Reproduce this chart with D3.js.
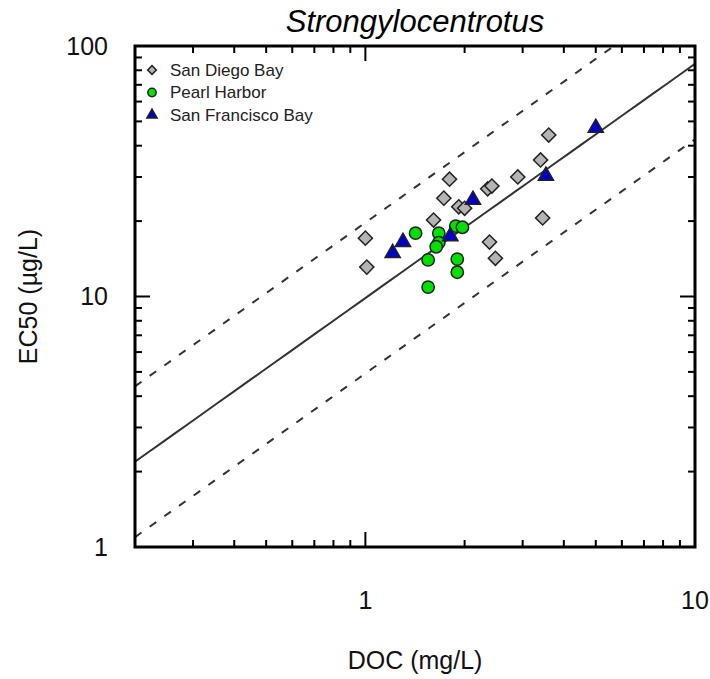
<!DOCTYPE html>
<html>
<head>
  <meta charset="utf-8">
  <title>Strongylocentrotus EC50 vs DOC</title>
  <script src="https://d3js.org/d3.v7.min.js"></script>
  <style>
    body { margin: 0; background: #fff; font-family: "Liberation Sans", Arial, sans-serif; }
    .frame { fill: none; stroke: #000; stroke-width: 3; }
    .tick { stroke: #000; stroke-width: 2; }
  </style>
</head>
<body>
  <svg width="710" height="679"></svg>
  <script>
    // San Diego Bay
    const sdDOC  = [1.00, 1.01, 1.61, 1.73, 1.80, 1.92, 2.00, 2.35, 2.42, 2.90, 3.40, 3.45, 3.60, 2.38, 2.48];
    const sdEC50 = [17.1, 13.1, 20.2, 24.7, 29.4, 22.8, 22.5, 26.9, 27.6, 30.0, 35.1, 20.6, 44.1, 16.5, 14.2];
    // Pearl Harbor
    const phDOC  = [1.42, 1.67, 1.67, 1.64, 1.55, 1.90, 1.90, 1.55, 1.88, 1.97];
    const phEC50 = [17.9, 17.9, 16.4, 15.8, 14.0, 14.1, 12.5, 10.9, 19.1, 18.9];
    // San Francisco Bay
    const sfDOC  = [1.21, 1.30, 1.81, 2.12, 3.53, 5.00];
    const sfEC50 = [14.9, 16.5, 17.4, 24.3, 30.3, 47.1];

    // fitted line EC50 = a * DOC^b, with factor-of-two bounds
    const fitA = 9.86, fitB = 0.935, bandFactor = 2;

    const xMajor = [1, 10];
    const yMajor = [1, 10, 100];
    const seriesNames = ["San Diego Bay", "Pearl Harbor", "San Francisco Bay"];

    const svg = d3.select("svg");
    const mLeft = 135, mRight = 695, mTop = 46, mBottom = 547;

    const x = d3.scaleLog().domain([0.2, 10]).range([mLeft, mRight]);
    const y = d3.scaleLog().domain([1, 100]).range([mBottom, mTop]);

    svg.append("defs").append("clipPath").attr("id", "clip")
      .append("rect").attr("x", mLeft).attr("y", mTop)
      .attr("width", mRight - mLeft).attr("height", mBottom - mTop);

    // ticks (inside, on all four sides)
    const xMinor = [0.3,0.4,0.5,0.6,0.7,0.8,0.9,2,3,4,5,6,7,8,9];
    const yMinor = [2,3,4,5,6,7,8,9,20,30,40,50,60,70,80,90];
    const tg = svg.append("g");
    const addX = (vals, len) => vals.forEach(v => {
      tg.append("line").attr("class", "tick").attr("x1", x(v)).attr("x2", x(v)).attr("y1", mBottom).attr("y2", mBottom - len);
      tg.append("line").attr("class", "tick").attr("x1", x(v)).attr("x2", x(v)).attr("y1", mTop).attr("y2", mTop + len);
    });
    const addY = (vals, len) => vals.forEach(v => {
      tg.append("line").attr("class", "tick").attr("y1", y(v)).attr("y2", y(v)).attr("x1", mLeft).attr("x2", mLeft + len);
      tg.append("line").attr("class", "tick").attr("y1", y(v)).attr("y2", y(v)).attr("x1", mRight).attr("x2", mRight - len);
    });
    addX(xMinor, 7); addX(xMajor, 15);
    addY(yMinor, 7); addY(yMajor, 15);

    // tick labels
    svg.append("g").selectAll("text").data(xMajor).join("text")
      .attr("x", d => x(d)).attr("y", 609)
      .attr("text-anchor", "middle").attr("font-size", 25).attr("fill", "#111")
      .text(d => d);
    svg.append("g").selectAll("text").data(yMajor).join("text")
      .attr("x", 108).attr("y", d => y(d)).attr("dy", "0.35em")
      .attr("text-anchor", "end").attr("font-size", 25).attr("fill", "#111")
      .text(d => d);

    // fit lines
    const lineDom = d3.range(0, 41).map(i => 0.2 * Math.pow(50, i / 40));
    const lines = svg.append("g").attr("clip-path", "url(#clip)");
    [[1, null], [bandFactor, "8,10"], [1 / bandFactor, "8,10"]].forEach(([f, dash]) => {
      lines.append("path")
        .datum(lineDom)
        .attr("fill", "none").attr("stroke", "#333").attr("stroke-width", 2)
        .attr("stroke-dasharray", dash)
        .attr("d", d3.line().x(d => x(d)).y(d => y(f * fitA * Math.pow(d, fitB))));
    });

    // markers
    const diamond = size => d3.symbol().type(d3.symbolSquare).size(size)();
    const circle = size => d3.symbol().type(d3.symbolCircle).size(size)();
    const tri = size => d3.symbol().type(d3.symbolTriangle).size(size)();
    const styles = [
      { path: diamond, rot: 45, fill: "#b4b4b4", size: 100, legSize: 38 },
      { path: circle, rot: 0, fill: "#00e000", size: 120, legSize: 55 },
      { path: tri, rot: 0, fill: "#0000c8", size: 100, legSize: 45 }
    ];
    const series = [
      d3.zip(sdDOC, sdEC50),
      d3.zip(phDOC, phEC50),
      d3.zip(sfDOC, sfEC50)
    ];
    series.forEach((pts, i) => {
      const s = styles[i];
      svg.append("g").selectAll("path").data(pts).join("path")
        .attr("d", s.path(s.size))
        .attr("transform", d => `translate(${x(d[0])},${y(d[1])}) rotate(${s.rot})`)
        .attr("fill", s.fill).attr("stroke", "#222").attr("stroke-width", 1.5);
    });

    // legend
    const leg = svg.append("g");
    seriesNames.forEach((name, i) => {
      const s = styles[i];
      const ly = 70 + i * 22.5;
      leg.append("path").attr("d", s.path(s.legSize))
        .attr("transform", `translate(152,${ly}) rotate(${s.rot})`)
        .attr("fill", s.fill).attr("stroke", "#222").attr("stroke-width", 1.5);
      leg.append("text").attr("x", 170).attr("y", ly).attr("dy", "0.35em")
        .attr("font-size", 17).attr("fill", "#222").text(name);
    });

    // frame
    svg.append("rect").attr("class", "frame")
      .attr("x", mLeft).attr("y", mTop).attr("width", mRight - mLeft).attr("height", mBottom - mTop);

    // titles
    svg.append("text").attr("x", (mLeft + mRight) / 2).attr("y", 32)
      .attr("text-anchor", "middle").attr("font-size", 31).attr("font-style", "italic")
      .text("Strongylocentrotus");
    svg.append("text").attr("x", (mLeft + mRight) / 2).attr("y", 669)
      .attr("text-anchor", "middle").attr("font-size", 25).attr("fill", "#111")
      .text("DOC (mg/L)");
    svg.append("text").attr("transform", `translate(37,${(mTop + mBottom) / 2}) rotate(-90)`)
      .attr("text-anchor", "middle").attr("font-size", 25).attr("fill", "#111")
      .text("EC50 (µg/L)");
  </script>
</body>
</html>
